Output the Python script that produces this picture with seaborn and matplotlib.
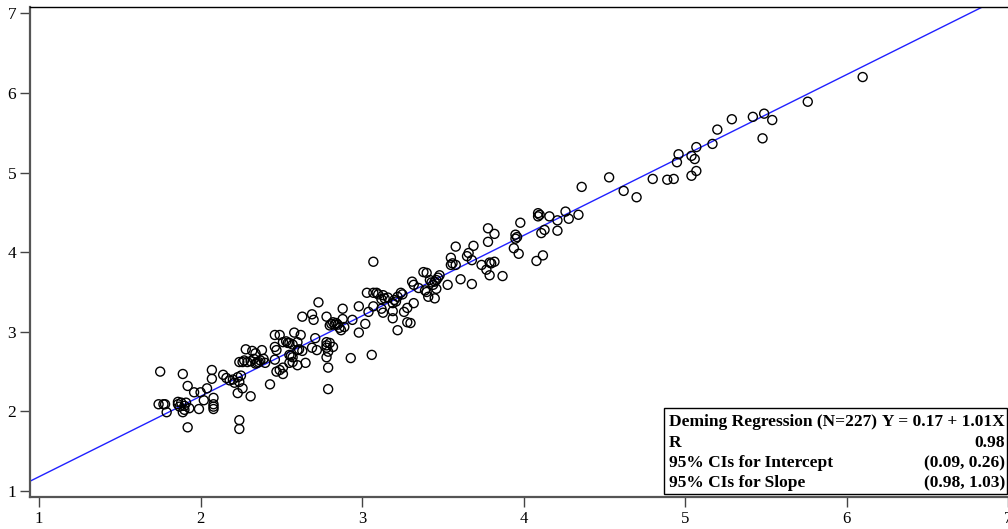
import matplotlib
matplotlib.use("Agg")
import matplotlib.pyplot as plt
import numpy as np
import pandas as pd
import seaborn as sns
from matplotlib.patches import Rectangle

# Paired measurements: method X (reference) vs method Y (test)
method_x = [
    1.75, 1.89, 2.07, 2.07, 1.92, 1.96, 2.00, 2.04, 2.08, 2.02, 2.08, 2.08,
    1.99, 1.74, 1.78, 1.79, 1.86, 1.87, 1.91, 1.90, 1.89, 2.24, 2.24, 1.92,
    2.63, 2.69, 2.70, 2.73, 2.78, 2.88, 2.81, 2.83, 2.84, 2.88, 2.86, 2.89,
    2.94, 2.98, 3.03, 3.07, 3.09, 3.04, 3.07, 3.02, 2.98, 3.06, 2.93, 2.79,
    2.79, 2.43, 2.31, 2.46, 2.49, 2.51, 2.54, 2.55, 2.58, 2.62, 2.60, 2.46,
    2.47, 2.46, 2.28, 2.32, 2.34, 2.38, 2.24, 2.26, 2.29, 2.33, 2.35, 2.36,
    2.39, 2.40, 2.55, 2.57, 2.60, 2.57, 2.55, 2.65, 2.60, 2.51, 2.51, 2.47,
    2.49, 2.71, 2.69, 2.72, 2.78, 2.78, 2.78, 2.79, 2.82, 2.78, 2.14, 2.16,
    2.18, 2.23, 2.21, 2.24, 2.26, 2.23,
    3.07, 3.58, 3.69, 3.66, 3.65, 3.68, 3.78, 3.78, 3.74, 3.77, 3.79, 3.55,
    3.55, 3.58, 3.61, 3.68, 3.53, 3.38, 3.40, 3.48, 3.46, 3.45, 3.44, 3.42,
    3.31, 3.32, 3.35, 3.40, 3.46, 3.45, 3.41, 3.13, 3.14, 3.12, 3.24, 3.25,
    3.22, 3.20, 3.19, 3.12, 3.13, 3.19, 3.26, 3.32, 3.19, 3.28, 3.30, 3.22,
    4.36, 4.09, 4.09, 4.16, 4.26, 4.21, 4.28, 4.34, 3.98, 4.13, 4.11, 4.21,
    3.82, 3.95, 3.95, 3.96, 3.94, 3.97, 4.12, 4.08, 3.80, 3.82, 3.87,
    6.10, 5.76, 5.42, 5.49, 5.54, 5.48, 5.29, 5.20, 5.17, 5.07, 4.96, 5.04,
    5.06, 4.95, 5.07, 5.04, 4.93, 4.89, 4.80, 4.53, 4.62, 4.70,
    1.77, 1.88, 1.90, 1.93, 2.08, 1.86, 2.20, 2.27, 2.31, 2.37, 2.25, 2.34,
    2.53, 2.57, 2.61, 2.56, 2.63, 2.80, 2.82, 2.85, 2.87, 2.80, 3.10, 3.16,
    3.21, 3.28, 3.43, 3.47, 3.39, 3.56, 3.79, 4.10,
]
method_y = [
    2.50, 2.47, 2.52, 2.41, 2.32, 2.24, 2.24, 2.29, 2.17, 2.14, 2.09, 2.03,
    2.03, 2.09, 2.09, 1.99, 2.12, 2.06, 2.11, 2.02, 1.99, 1.89, 1.78, 1.80,
    3.19, 3.22, 3.15, 3.37, 3.19, 3.29, 3.10, 3.09, 3.11, 3.16, 3.05, 3.06,
    3.15, 3.32, 3.49, 3.49, 3.49, 3.25, 3.32, 3.10, 2.99, 2.71, 2.67, 2.55,
    2.28, 2.34, 2.19, 2.96, 2.96, 2.87, 2.86, 2.86, 2.99, 2.96, 2.87, 2.81,
    2.77, 2.65, 2.78, 2.76, 2.73, 2.77, 2.62, 2.62, 2.62, 2.66, 2.61, 2.62,
    2.66, 2.61, 2.71, 2.68, 2.77, 2.62, 2.61, 2.61, 2.58, 2.55, 2.47, 2.50,
    2.52, 2.92, 2.80, 2.77, 2.87, 2.83, 2.80, 2.75, 2.81, 2.68, 2.46, 2.42,
    2.39, 2.43, 2.36, 2.37, 2.29, 2.23,
    3.88, 4.07, 4.08, 3.99, 3.95, 3.90, 4.30, 4.13, 3.84, 3.78, 3.71, 3.93,
    3.84, 3.84, 3.66, 3.60, 3.59, 3.75, 3.74, 3.71, 3.65, 3.63, 3.59, 3.65,
    3.63, 3.59, 3.55, 3.50, 3.54, 3.42, 3.44, 3.46, 3.42, 3.41, 3.49, 3.47,
    3.44, 3.40, 3.36, 3.29, 3.24, 3.26, 3.25, 3.36, 3.17, 3.12, 3.11, 3.02,
    4.82, 4.49, 4.45, 4.45, 4.51, 4.40, 4.42, 4.47, 4.37, 4.28, 4.24, 4.27,
    4.23, 4.22, 4.17, 4.19, 4.05, 3.98, 3.96, 3.89, 3.86, 3.88, 3.70,
    6.20, 5.89, 5.70, 5.74, 5.66, 5.43, 5.67, 5.54, 5.36, 5.32, 5.23, 5.21,
    5.17, 5.13, 5.02, 4.96, 4.92, 4.91, 4.92, 4.94, 4.77, 4.69,
    2.09, 2.11, 2.07, 2.04, 2.06, 2.09, 2.40, 2.64, 2.63, 2.64, 2.45, 2.60,
    2.88, 2.84, 2.78, 2.70, 2.76, 3.08, 3.12, 3.09, 3.02, 2.86, 3.47, 3.43,
    3.38, 3.30, 3.62, 3.68, 3.52, 3.86, 3.87, 4.47,
]

# Deming regression summary
n_obs = 227
intercept = 0.17
slope = 1.01
r_value = 0.98
ci_intercept = (0.09, 0.26)
ci_slope = (0.98, 1.03)

x_ticks = [1, 2, 3, 4, 5, 6, 7]
y_ticks = [1, 2, 3, 4, 5, 6, 7]

sns.set_theme(style="ticks")
plt.rcParams["font.family"] = ["Liberation Serif", "DejaVu Serif"]

fig = plt.figure(figsize=(10.08, 5.29), dpi=100)
ax = fig.add_axes([0.0298, 0.0605, 0.9702, 0.9263])

df = pd.DataFrame({"x": method_x, "y": method_y})
sns.scatterplot(data=df, x="x", y="y", ax=ax, marker="o", s=42,
                facecolor="none", edgecolor="black", linewidth=1.0,
                legend=False, zorder=3)

x_lo, x_hi = 0.944, 7.0
y_lo, y_hi = 0.925, 7.08
line_x = np.array([x_lo, x_hi])
fit = pd.DataFrame({"x": line_x, "y": intercept + slope * line_x})
sns.lineplot(data=fit, x="x", y="y", ax=ax, color="#2020ff", linewidth=1.0,
             zorder=2)

ax.set_xlim(x_lo, x_hi)
ax.set_ylim(y_lo, y_hi)
ax.set_xticks(x_ticks)
ax.set_yticks(y_ticks)
ax.set_xlabel("")
ax.set_ylabel("")

for side in ("left", "bottom"):
    ax.spines[side].set_color("#555555")
    ax.spines[side].set_linewidth(1.6)
ax.spines["top"].set_color("black")
ax.spines["top"].set_linewidth(1.0)
ax.spines["right"].set_visible(False)

ax.tick_params(axis="both", direction="out", length=7, width=1.0,
               color="#444444", labelcolor="black")
ax.tick_params(axis="x", pad=3, labelsize=12)
ax.tick_params(axis="y", pad=3, labelsize=12.5)

# Summary table in the lower right corner
bx0, by0 = 664 / 1008, 1 - 494 / 529
bx1, by1 = 1007 / 1008, 1 - 408 / 529
fig.patches.append(Rectangle((bx0, by0), bx1 - bx0, by1 - by0,
                             transform=fig.transFigure, facecolor="white",
                             edgecolor="black", linewidth=1.0, zorder=5))

rows = [
    (f"Deming Regression (N={n_obs})", f"Y = {intercept:.2f} + {slope:.2f}X"),
    ("R", f"{r_value:.2f}"),
    ("95% CIs for Intercept", f"({ci_intercept[0]:.2f}, {ci_intercept[1]:.2f})"),
    ("95% CIs for Slope", f"({ci_slope[0]:.2f}, {ci_slope[1]:.2f})"),
]
row_centers = [422, 443, 463, 483]
for (left, right), yc in zip(rows, row_centers):
    yf = 1 - yc / 529
    fig.text(669 / 1008, yf, left, ha="left", va="center", fontsize=12.5,
             fontweight="bold", color="black", zorder=6)
    fig.text(1005 / 1008, yf, right, ha="right", va="center", fontsize=12.5,
             fontweight="bold", color="black", zorder=6)

fig.savefig("out.png", dpi=100, facecolor="white")
